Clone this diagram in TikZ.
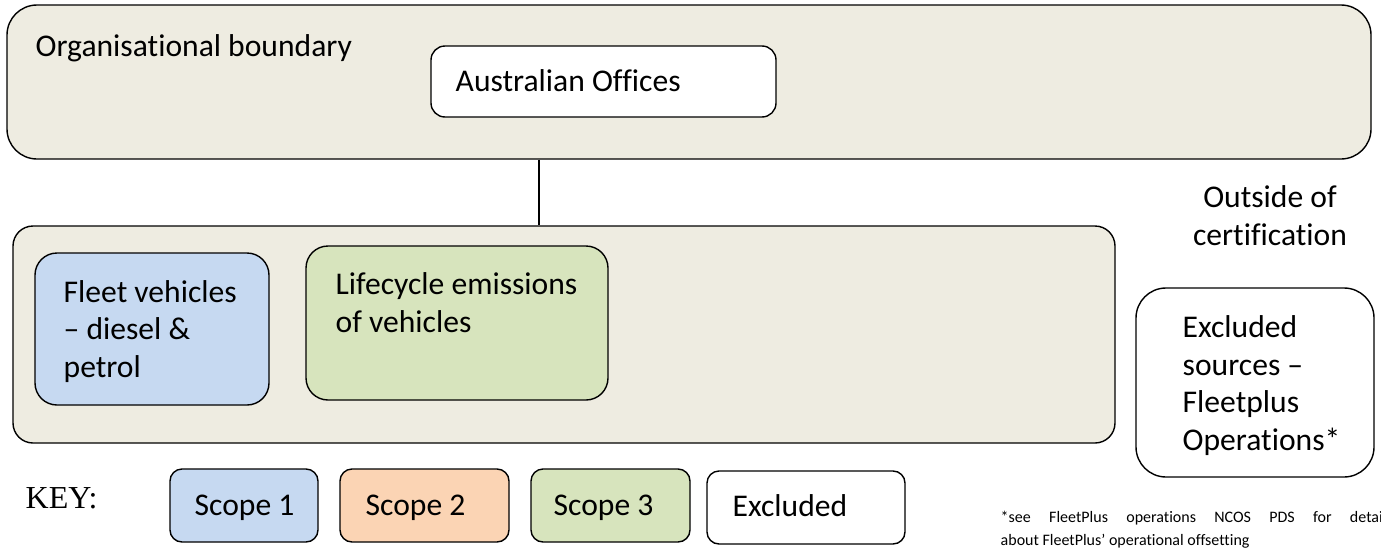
\documentclass[tikz,border=0pt]{standalone}
\usepackage{fontspec}
\setmainfont{Carlito}[Ligatures=NoCommon]
\newfontfamily\keyfont{Liberation Serif}
\usetikzlibrary{fit}

\definecolor{boundarybg}{HTML}{EEECE1}
\definecolor{scopeone}{HTML}{C6D9F1}
\definecolor{scopetwo}{HTML}{FBD4B4}
\definecolor{scopethree}{HTML}{D7E4BD}

\newcommand{\roundbox}[5]{
   \node[fit = {(#2) (#3)}, inner sep = 0pt, draw, rounded corners = #4, #5] (#1) {};
}

\begin{document}
\begin{tikzpicture}[x=1pt, y=-1pt, line width=1.4pt,
   label/.style = {anchor=base west, inner sep=0pt, align=left, font=\fontsize{31.6}{37.5}\selectfont},
   note/.style = {anchor=base west, inner sep=0pt, text width=392pt, align=justify, font=\fontsize{16}{23}\selectfont}]

		% Page
		\useasboundingbox (0,0) rectangle (1381,549);
		\clip (0,0) rectangle (1381,549);

		% Organisational boundary
		\roundbox{org}{7,5}{1371,159}{30pt}{fill=boundarybg}
		\node[label] (orgtext) at (35,56) {Organisational boundary};
		\roundbox{aus}{431,46}{776,117}{14pt}{fill=white}
		\node[label] (austext) at (455,91) {Australian Offices};

		% Sources inside the boundary (last line is the base)
		\roundbox{sources}{13,226}{1115,443}{20pt}{fill=boundarybg}
		\coordinate (link) at (539,0);
		\draw (org.south -| link) -- (sources.north -| link);
		\roundbox{fleet}{35,253}{269,405}{22pt}{fill=scopeone}
		\node[label] (fleettext) at (63,377) {Fleet vehicles\\– diesel \&\\petrol};
		\roundbox{life}{306,246}{608,400}{22pt}{fill=scopethree}
		\node[label] (lifetext) at (335,332) {Lifecycle emissions\\of vehicles};

		% Outside of certification
		\node[label, anchor=base, align=center] (outside) at (1270,245) {Outside of\\certification};
		\roundbox{excl}{1136,288}{1374,477}{30pt}{fill=white}
		\node[label] (excltext) at (1182,450) {Excluded\\sources –\\Fleetplus\\Operations*};

		% Key
		\node[anchor=base west, inner sep=0pt, font=\keyfont\fontsize{32}{38}\selectfont] (key) at (25,508) {KEY:};
		\roundbox{keyone}{170,469}{318,542}{12pt}{fill=scopeone}
		\node[label] (keyonetext) at (194,515) {Scope 1};
		\roundbox{keytwo}{340,469}{509,542}{12pt}{fill=scopetwo}
		\node[label] (keytwotext) at (365,515) {Scope 2};
		\roundbox{keythree}{531,469}{690,542}{12pt}{fill=scopethree}
		\node[label] (keythreetext) at (553,515) {Scope 3};
		\roundbox{keyexcl}{707,471}{905,544}{12pt}{fill=white}
		\node[label] (keyexcltext) at (732,516) {Excluded};

		% Footnote, running off the page (first line is the base)
		\node[note] (footnote) at (1000,522) {*see FleetPlus operations NCOS PDS for details\linebreak about FleetPlus’ operational offsetting};
\end{tikzpicture}
\end{document}
